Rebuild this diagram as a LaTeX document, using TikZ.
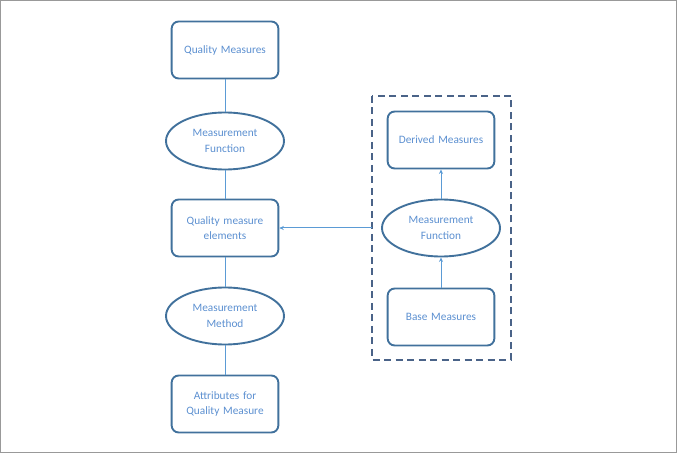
\documentclass[tikz,border=0pt]{standalone}
\usepackage{fontspec}
\setmainfont{Carlito}
\usetikzlibrary{shapes.geometric, arrows.meta, positioning}

\definecolor{boxline}{HTML}{41719C}
\definecolor{boxtext}{HTML}{5B8FD0}
\definecolor{conline}{HTML}{5B9BD5}
\definecolor{groupline}{HTML}{4A6388}

\begin{document}
\begin{tikzpicture}
    [x=1pt, y=-1pt,
    block/.style={rectangle, draw=boxline, line width=1.9pt,
    text=boxtext, text width=100pt, align=center, rounded corners=7pt,
    minimum width=106pt, minimum height=57pt, font=\fontsize{11.3}{15.5}\selectfont},
    func/.style={ellipse, draw=boxline, line width=1.9pt,
    text=boxtext, align=center, inner sep=0pt,
    minimum width=118pt, minimum height=57pt, font=\fontsize{11.3}{15.5}\selectfont},
    link/.style={draw=conline, line width=1pt},
    line/.style={draw=conline, line width=1pt, -{Stealth[length=4.5pt,width=4pt]}}]

    % frame
    \useasboundingbox (0,0) rectangle (678,454);
    \draw[gray!80, line width=1pt] (0.5,0.5) rectangle (676.5,452.5);

    % left column
    \node [block] (quality)  at (225,50)  {Quality Measures};
    \node [func]  (mfunc)    at (225,141) {Measurement\\Function};
    \node [block] (elements) at (225,228) {Quality measure\\elements};
    \node [func]  (mmethod)  at (225,316) {Measurement\\Method};
    \node [block] (attrib)   at (225,404) {Attributes for\\Quality Measure};

    % right column
    \node [block] (derived)  at (441,140) {Derived Measures};
    \node [func]  (mfunc2)   at (441,228) {Measurement\\Function};
    \node [block] (base)     at (441,317) {Base Measures};

    \draw [groupline, line width=2pt, dash pattern=on 7pt off 4.5pt]
        (372,96) rectangle (511,360);
    \coordinate (grp) at (372,228);

    \begin{scope}[every path/.style=link]
        \path (quality) -- (mfunc);
        \path (mfunc) -- (elements);
        \path (elements) -- (mmethod);
        \path (mmethod) -- (attrib);
    \end{scope}
    \begin{scope}[every path/.style=line]
        \path (grp) -- (grp -| elements.east);
        \path (mfunc2) -- (derived);
        \path (base) -- (mfunc2);
    \end{scope}
\end{tikzpicture}
\end{document}
